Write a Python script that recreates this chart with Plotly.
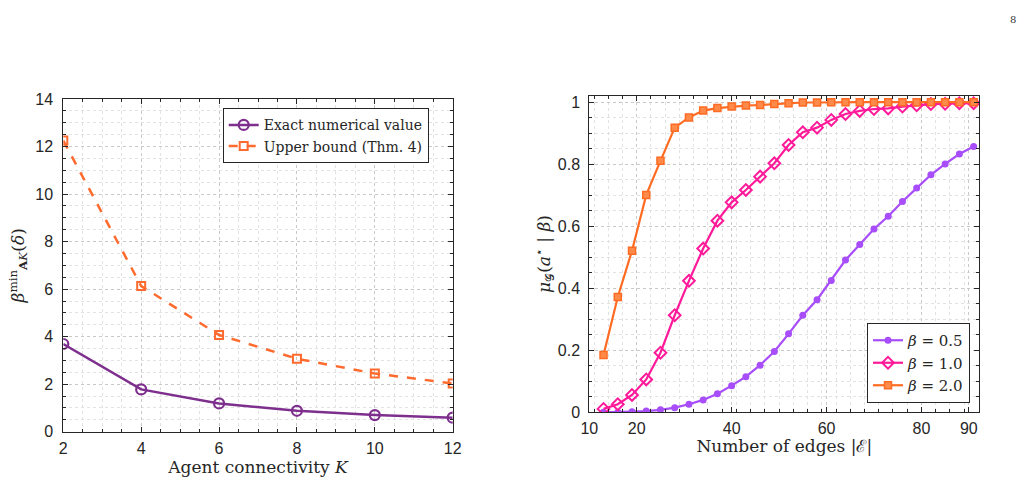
import plotly.graph_objects as go

# ---- Left panel data ----
K = [2, 4, 6, 8, 10, 12]
exact_val = [3.69, 1.78, 1.19, 0.88, 0.70, 0.59]
upper_bound = [12.25, 6.13, 4.07, 3.07, 2.45, 2.03]

# ---- Right panel data ----
edges = [13, 16, 19, 22, 25, 28, 31, 34, 37, 40, 43, 46, 49, 52, 55, 58, 61,
         64, 67, 70, 73, 76, 79, 82, 85, 88, 91]
mu_b05 = [0.0, 0.0, 0.002, 0.004, 0.008, 0.015, 0.026, 0.040, 0.060, 0.086,
          0.115, 0.152, 0.196, 0.253, 0.313, 0.363, 0.425, 0.491, 0.541, 0.591,
          0.632, 0.680, 0.723, 0.766, 0.801, 0.833, 0.857]
mu_b10 = [0.011, 0.026, 0.056, 0.106, 0.192, 0.313, 0.424, 0.528, 0.618, 0.677,
          0.717, 0.760, 0.803, 0.862, 0.903, 0.918, 0.943, 0.962, 0.972, 0.978,
          0.980, 0.986, 0.990, 0.994, 0.995, 0.997, 0.997]
mu_b20 = [0.185, 0.372, 0.521, 0.701, 0.811, 0.918, 0.951, 0.973, 0.981, 0.986,
          0.989, 0.991, 0.994, 0.997, 0.999, 0.999, 1.0, 1.0, 1.0, 1.0,
          1.0, 1.0, 1.0, 1.0, 1.0, 1.0, 1.0]
right_xticks = [10, 20, 40, 60, 80, 90]
right_yticks = [0, 0.2, 0.4, 0.6, 0.8, 1]
right_ytick_text = ["0", "0.2", "0.4", "0.6", "0.8", "1"]

W, H = 1033, 488
SERIF = "DejaVu Serif"
SANS = "Liberation Sans"
AXC = "#262626"
GRID = "#c9c9c9"
MGRID = "#e2e2e2"

PURPLE = "#7E2F8E"
ORANGE_L = "#FF6A2E"
VIOLET = "#A84DFA"
MAGENTA = "#FF1A9A"
ORANGE_R = "#FF6B22"

fig = go.Figure()

fig.add_trace(go.Scatter(
    x=K, y=exact_val, mode="lines+markers", name="Exact numerical value",
    line=dict(color=PURPLE, width=2.5),
    marker=dict(symbol="circle-open", size=10, color=PURPLE, line=dict(width=2.2)),
    xaxis="x", yaxis="y", legend="legend"))
fig.add_trace(go.Scatter(
    x=K, y=upper_bound, mode="lines+markers", name="Upper bound (Thm. 4)",
    line=dict(color=ORANGE_L, width=2.5, dash="dash"),
    marker=dict(symbol="square-open", size=8, color=ORANGE_L, line=dict(width=2)),
    xaxis="x", yaxis="y", legend="legend"))

fig.add_trace(go.Scatter(
    x=edges, y=mu_b05, mode="lines+markers", name="<i>β</i> = 0.5",
    line=dict(color=VIOLET, width=2.2),
    marker=dict(symbol="circle", size=7, color=VIOLET),
    xaxis="x2", yaxis="y2", legend="legend2"))
fig.add_trace(go.Scatter(
    x=edges, y=mu_b10, mode="lines+markers", name="<i>β</i> = 1.0",
    line=dict(color=MAGENTA, width=2.2),
    marker=dict(symbol="diamond-open", size=9, color=MAGENTA, line=dict(width=2)),
    xaxis="x2", yaxis="y2", legend="legend2"))
fig.add_trace(go.Scatter(
    x=edges, y=mu_b20, mode="lines+markers", name="<i>β</i> = 2.0",
    line=dict(color=ORANGE_R, width=2.2),
    marker=dict(symbol="square", size=7, color="#FF8A4A", line=dict(color=ORANGE_R, width=1.5)),
    xaxis="x2", yaxis="y2", legend="legend2"))

def axis(domain, rng, anchor, standoff, **kw):
    d = dict(domain=domain, range=rng, anchor=anchor, automargin=False,
             showline=True, linecolor=AXC, linewidth=1, mirror="ticks",
             ticks="inside", ticklen=5, tickcolor=AXC,
             ticklabelstandoff=standoff,
             showgrid=True, gridcolor=GRID, griddash="dot", gridwidth=1,
             zeroline=False,
             tickfont=dict(family=SANS, size=16, color=AXC))
    d.update(kw)
    return d

TFONT = dict(family=SERIF, size=17, color=AXC)

fig.update_layout(
    width=W, height=H,
    margin=dict(l=0, r=0, t=0, b=0),
    paper_bgcolor="white", plot_bgcolor="white",
    xaxis=axis([63.3 / W, 452.7 / W], [2, 12], "y", 2,
               tickvals=K,
               minor=dict(dtick=0.5, tick0=2, ticks="inside", ticklen=3, tickcolor=AXC,
                          showgrid=True, gridcolor=MGRID, griddash="dot"),
               title=dict(text="Agent connectivity <i>K</i>", font=TFONT, standoff=4)),
    yaxis=axis([1 - 431.7 / H, 1 - 99 / H], [0, 14], "x", 6,
               tickvals=[0, 2, 4, 6, 8, 10, 12, 14],
               minor=dict(dtick=0.5, tick0=0, ticks="inside", ticklen=3, tickcolor=AXC,
                          showgrid=True, gridcolor=MGRID, griddash="dot"),
               title=dict(text="<i>β</i><sup>min</sup><sub><b>A</b><i>K</i></sub>(<i>δ</i>)",
                          font=TFONT, standoff=6)),
    xaxis2=axis([589.3 / W, 979.3 / W], [10, 92.2], "y2", 1,
                tickvals=right_xticks,
                minor=dict(dtick=3, tick0=11, ticks="inside", ticklen=3, tickcolor=AXC,
                           showgrid=True, gridcolor=MGRID, griddash="dot"),
                title=dict(text="Number of edges |ℰ|", font=TFONT, standoff=2)),
    yaxis2=axis([1 - 412.3 / H, 1 - 95.7 / H], [0, 1.021], "x2", 5,
                tickvals=right_yticks, ticktext=right_ytick_text,
                minor=dict(dtick=0.05, tick0=0, ticks="inside", ticklen=3, tickcolor=AXC,
                           showgrid=True, gridcolor=MGRID, griddash="dot"),
                title=dict(text="<i>μ</i><sub>𝒢</sub>(<i>a</i><sup>⋆</sup> | <i>β</i>)",
                           font=TFONT, standoff=2)),
    legend=dict(x=222.7 / W, y=1 - 108.3 / H, xanchor="left", yanchor="top",
                bgcolor="white", bordercolor=AXC, borderwidth=1,
                font=dict(family=SERIF, size=14, color=AXC),
                tracegroupgap=0, itemwidth=30),
    legend2=dict(x=970 / W, y=1 - 403 / H, xanchor="right", yanchor="bottom",
                 bgcolor="white", bordercolor=AXC, borderwidth=1,
                 font=dict(family=SERIF, size=15, color=AXC),
                 tracegroupgap=0, itemwidth=30),
    annotations=[dict(text="8", x=1018 / W, y=1 - 12 / H, xref="paper", yref="paper",
                      showarrow=False, font=dict(family=SERIF, size=10, color="#333"))],
)

fig.write_html("out.html")
